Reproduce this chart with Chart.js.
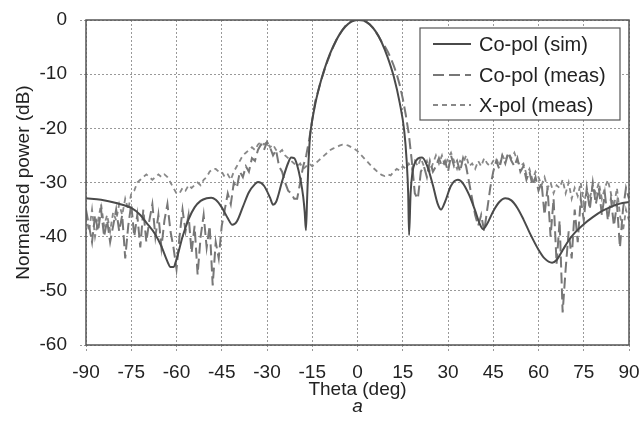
<!DOCTYPE html>
<html lang="en">
<head>
  <meta charset="utf-8">
  <title>Normalised radiation pattern</title>
  <script src="https://cdn.jsdelivr.net/npm/chart.js"></script>
  <style>
    html, body { margin: 0; padding: 0; background: #fff; }
    #wrap { width: 643px; height: 421px; }
  </style>
</head>
<body>
<div id="wrap"><canvas id="myChart" width="643" height="421"></canvas></div>

<script>
  // Co-pol (sim): angles (deg) and power (dB)
  var simTheta = [
    -90, -85, -80, -75, -72, -70, -67, -65, -63, -62,
    -61, -60, -58, -56, -54, -52, -50, -48.5, -47, -45,
    -43, -41.5, -40, -38, -36, -34, -33, -31, -29, -28,
    -27, -25, -23, -22, -21, -20, -19, -18, -17.5, -17.1,
    -16.7, -16.3, -15.8, -15.5, -14, -12, -10, -8, -6, -4,
    -2, 0, 2, 4, 6, 8, 10, 12, 14, 15.5,
    16.3, 16.8, 17.1, 17.6, 18.2, 19, 20, 21.4, 23, 25,
    26.5, 27.7, 29, 31, 33.3, 35, 37, 39, 40.5, 41.6,
    43, 45, 47, 49, 51, 53, 55, 57, 60, 62,
    64.5, 66, 68, 70, 72, 75, 78, 81, 84, 87,
    90
  ];
  var simPower = [
    -32.9, -33.2, -33.8, -34.7, -36, -37.4, -39.6, -41.8, -44.6, -45.6,
    -45.6, -44.2, -40, -36.8, -34.6, -33.4, -32.9, -32.8, -33.2, -34.6,
    -36.6, -37.8, -37.2, -34.5, -31.8, -30.3, -29.9, -30.6, -32.8, -34.1,
    -33.6, -29.8, -26.4, -25.4, -25.5, -26.8, -29.2, -32.6, -35.5, -38.8,
    -33, -27, -22, -20.3, -15.5, -11, -7.5, -4.8, -2.7, -1.2,
    -0.3, 0, -0.1, -0.8, -2.1, -4.1, -6.9, -10.4, -15.3, -20.5,
    -26, -32, -39.7, -32, -28.2, -26.4, -25.6, -25.4, -26.8, -30.5,
    -33.8, -35, -33.6, -30.6, -29.5, -30.2, -32.3, -35.2, -37.6, -38.6,
    -37.6, -35.3, -33.6, -32.9, -33.3, -34.7, -36.8, -39.2, -42.4, -44,
    -44.8, -44.3, -42.5, -40.7, -39.3, -37.7, -36.4, -35.3, -34.5, -33.9,
    -33.6
  ];

  // measured patterns, 1 deg steps
  var measTheta = [
    -90, -89, -88, -87, -86, -85, -84, -83, -82, -81,
    -80, -79, -78, -77, -76, -75, -74, -73, -72, -71,
    -70, -69, -68, -67, -66, -65, -64, -63, -62, -61,
    -60, -59, -58, -57, -56, -55, -54, -53, -52, -51,
    -50, -49, -48, -47, -46, -45, -44, -43, -42, -41,
    -40, -39, -38, -37, -36, -35, -34, -33, -32, -31,
    -30, -29, -28, -27, -26, -25, -24, -23, -22, -21,
    -20, -19, -18, -17, -16, -15, -14, -13, -12, -11,
    -10, -9, -8, -7, -6, -5, -4, -3, -2, -1,
    0, 1, 2, 3, 4, 5, 6, 7, 8, 9,
    10, 11, 12, 13, 14, 15, 16, 17, 18, 19,
    20, 21, 22, 23, 24, 25, 26, 27, 28, 29,
    30, 31, 32, 33, 34, 35, 36, 37, 38, 39,
    40, 41, 42, 43, 44, 45, 46, 47, 48, 49,
    50, 51, 52, 53, 54, 55, 56, 57, 58, 59,
    60, 61, 62, 63, 64, 65, 66, 67, 68, 69,
    70, 71, 72, 73, 74, 75, 76, 77, 78, 79,
    80, 81, 82, 83, 84, 85, 86, 87, 88, 89,
    90
  ];
  var coPolMeas = [
    -35, -38, -41, -36, -39, -35, -40, -37, -41, -38,
    -35, -39, -36, -44, -38, -34, -40, -36, -42, -35,
    -41, -37, -34, -40, -36, -42, -37, -34, -39, -42,
    -46, -40, -35, -39, -36, -43, -38, -47, -40, -36,
    -42, -38, -49, -41, -44, -38, -35, -32, -34, -30,
    -31, -28, -29, -27, -28, -25.5, -26, -24, -23, -24,
    -22.5, -23.5, -25, -24, -27, -28, -30, -31.5, -32, -33,
    -33, -30, -27, -25, -22, -18.5, -15, -13, -11, -9.3,
    -7.7, -6.2, -4.9, -3.7, -2.7, -1.8, -1.1, -0.6, -0.2, 0,
    0, 0, -0.1, -0.4, -0.8, -1.4, -2.1, -3, -4, -4.8,
    -5.8, -7, -8.4, -10, -12, -14.5, -17.5, -21, -26, -32,
    -33, -28, -27, -29, -26, -28, -27, -25.5, -27, -26,
    -28, -25, -27, -26, -28, -25.5, -27, -30, -33, -36,
    -38, -36, -39, -35, -31, -28, -26, -27.5, -25, -26.5,
    -24.5, -26, -27, -25.5, -28, -27, -29.5, -28, -30.5, -29,
    -31.5, -30, -36, -31, -40, -33, -45, -37, -54, -46,
    -39, -44, -35, -41, -33, -37, -31, -35, -30, -34,
    -31, -36, -32, -37, -33, -38, -34, -42, -35, -31,
    -33
  ];
  var xPolMeas = [
    -36, -39, -35, -40, -37, -34, -38, -36, -39, -35.5,
    -37, -34, -36, -33, -35, -32, -31.5, -30, -29.5, -29,
    -28.5, -29, -29.5, -29, -28.5, -29, -28.5, -29, -30, -31,
    -32, -32, -31, -31.5, -30.5, -31, -30.5, -30, -30.5, -29.5,
    -29, -28, -27.5, -27.5, -28, -28, -29, -28.5, -29.5, -28,
    -27, -26, -25, -24.5, -24, -23.5, -24, -23, -22.5, -23,
    -22.5, -23.5, -23, -24, -24.5, -24, -25, -25.5, -26, -26.5,
    -27, -26.5, -27.5, -27, -26.5, -27, -26.5, -26, -25.5, -25,
    -24.5, -24, -23.7, -23.5, -23.2, -23, -23, -23.2, -23.5, -23.8,
    -24.2, -24.8, -25.4, -26, -26.6, -27.2, -27.7, -28.2, -28.6, -28.8,
    -28.5, -28.7, -28, -27.5, -27.8, -27, -27.5, -26.5, -27.5, -26,
    -27, -25.5, -27, -26, -28, -26.5, -25, -26.5, -25, -27,
    -25.5, -24.5, -26, -27.5, -26, -26.5, -25, -27, -26.5, -27.5,
    -26, -27, -25.5, -26.5, -27, -26, -25.5, -27, -25, -26,
    -24.5, -25.5, -24.5, -26, -27, -26.5, -28.5, -27.5, -29.5, -28,
    -29, -30.5, -29, -31, -30, -32, -30.5, -31, -29.5, -32,
    -30, -33, -31, -32.5, -30, -34, -31.5, -33, -30.5, -32,
    -30, -33, -31, -29.5, -32, -34.5, -31, -36, -39, -35,
    -37
  ];

  var xTicks = [-90, -75, -60, -45, -30, -15, 0, 15, 30, 45, 60, 75, 90];
  var yTicks = [-60, -50, -40, -30, -20, -10, 0];

  var FONT = "'Liberation Sans', Arial, Helvetica, sans-serif";

  function pairs(xs, ys) {
    return xs.map(function (x, i) { return { x: x, y: ys[i] }; });
  }

  // frame round the plot, legend box and the "a" caption
  var decorPlugin = {
    id: 'decor',
    afterDraw: function (chart) {
      var ctx = chart.ctx;
      var a = chart.chartArea;
      ctx.save();
      ctx.strokeStyle = '#555';
      ctx.lineWidth = 1.5;
      ctx.setLineDash([]);
      ctx.strokeRect(a.left, a.top, a.right - a.left, a.bottom - a.top);

      // legend
      var bx = 420, by = 28, bw = 200, bh = 92;
      ctx.fillStyle = '#fff';
      ctx.fillRect(bx, by, bw, bh);
      ctx.strokeStyle = '#555';
      ctx.lineWidth = 1.2;
      ctx.strokeRect(bx, by, bw, bh);
      var rows = [44, 75, 105];
      ctx.font = '20px ' + FONT;
      ctx.textBaseline = 'middle';
      ctx.textAlign = 'left';
      chart.data.datasets.forEach(function (ds, i) {
        ctx.strokeStyle = ds.borderColor;
        ctx.lineWidth = ds.borderWidth;
        ctx.setLineDash(ds.borderDash || []);
        ctx.beginPath();
        ctx.moveTo(433, rows[i]);
        ctx.lineTo(471, rows[i]);
        ctx.stroke();
        ctx.fillStyle = '#222';
        ctx.fillText(ds.label, 479, rows[i] + 1);
      });

      ctx.setLineDash([]);
      ctx.font = 'italic 19px ' + FONT;
      ctx.textAlign = 'center';
      ctx.fillText('a', (a.left + a.right) / 2, 407);
      ctx.restore();
    }
  };

  var ctx = document.getElementById('myChart').getContext('2d');
  var myChart = new Chart(ctx, {
    type: 'line',
    data: {
      datasets: [
        {
          label: 'Co-pol (sim)',
          data: pairs(simTheta, simPower),
          borderColor: '#4a4a4a',
          borderWidth: 2,
          pointRadius: 0,
          cubicInterpolationMode: 'monotone',
          fill: false
        },
        {
          label: 'Co-pol (meas)',
          data: pairs(measTheta, coPolMeas),
          borderColor: '#777',
          borderWidth: 2,
          borderDash: [11, 5],
          pointRadius: 0,
          tension: 0,
          fill: false
        },
        {
          label: 'X-pol (meas)',
          data: pairs(measTheta, xPolMeas),
          borderColor: '#888',
          borderWidth: 1.8,
          borderDash: [5, 4],
          pointRadius: 0,
          tension: 0,
          fill: false
        }
      ]
    },
    options: {
      responsive: false,
      animation: false,
      layout: { padding: { top: 20, right: 14, bottom: 20, left: 0 } },
      plugins: {
        legend: { display: false },
        tooltip: { enabled: false }
      },
      scales: {
        x: {
          type: 'linear',
          min: -90,
          max: 90,
          afterBuildTicks: function (s) { s.ticks = xTicks.map(function (v) { return { value: v }; }); },
          afterFit: function (s) { s.height = 56; s.paddingLeft = 0; s.paddingRight = 0; },
          ticks: { font: { size: 19, family: FONT }, color: '#222', padding: 10, maxRotation: 0 },
          grid: { color: '#999', lineWidth: 1, tickLength: 6, tickBorderDash: [2, 2], tickColor: '#999' },
          border: { display: false, dash: [2, 2] },
          title: { display: true, text: 'Theta (deg)', font: { size: 19, family: FONT }, color: '#222', padding: { top: 0, bottom: 0 } }
        },
        y: {
          min: -60,
          max: 0,
          afterBuildTicks: function (s) { s.ticks = yTicks.map(function (v) { return { value: v }; }); },
          afterFit: function (s) { s.width = 86; s.paddingTop = 0; s.paddingBottom = 0; },
          ticks: { font: { size: 19, family: FONT }, color: '#222', padding: 13 },
          grid: { color: '#999', lineWidth: 1, tickLength: 6, tickBorderDash: [2, 2], tickColor: '#999' },
          border: { display: false, dash: [2, 2] },
          title: { display: true, text: 'Normalised power (dB)', font: { size: 19, family: FONT }, color: '#222', padding: { top: 12, bottom: 0 } }
        }
      }
    },
    plugins: [decorPlugin]
  });
</script>
</body>
</html>
